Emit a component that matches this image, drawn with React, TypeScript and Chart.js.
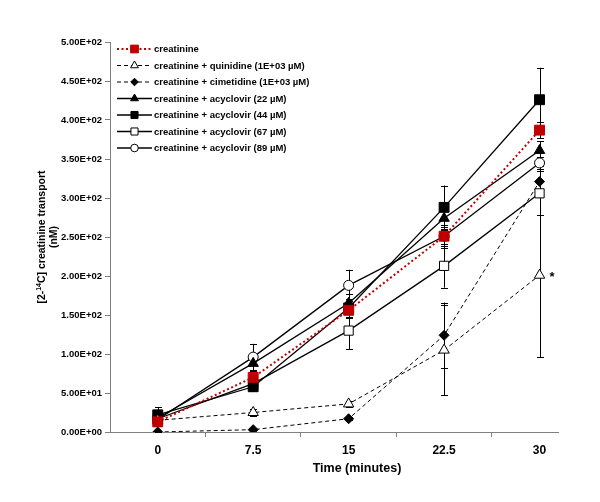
import React, { useEffect, useRef } from 'react';
import { Chart, registerables } from 'chart.js';

Chart.register(...registerables);

const TIMES = [0, 7.5, 15, 22.5, 30];
const X_TICKS = [0, 3.75, 7.5, 11.25, 15, 18.75, 22.5, 26.25, 30];
const LABELS = [
  'creatinine',
  'creatinine + quinidine (1E+03 µM)',
  'creatinine + cimetidine (1E+03 µM)',
  'creatinine + acyclovir (22 µM)',
  'creatinine + acyclovir (44 µM)',
  'creatinine + acyclovir (67 µM)',
  'creatinine + acyclovir (89 µM)',
];
const CREATININE = [13, 70, 156, 251, 387];
const CREATININE_ERR = [5, 8, 10, 12, 10];
const QUINIDINE = [15, 25, 36, 105, 201];
const QUINIDINE_ERR = [3, 4, 4, 58, 105];
const CIMETIDINE = [0, 3, 17, 124, 321];
const CIMETIDINE_ERR = [1, 1, 2, 42, 20];
const ACY22 = [18, 88, 165, 274, 361];
const ACY22_ERR = [8, 10, 12, 15, 12];
const ACY44 = [22, 58, 159, 288, 426];
const ACY44_ERR = [10, 6, 12, 28, 41];
const ACY67 = [17, 62, 130, 213, 306];
const ACY67_ERR = [6, 6, 24, 28, 28];
const ACY89 = [16, 96, 188, 251, 345];
const ACY89_ERR = [6, 17, 20, 15, 8];
const SIGNIFICANT = { series: 1, index: 4, mark: '*' };

const FONT = "'Liberation Sans', Arial, sans-serif";
const RED = '#C00000';

function fmtExp(v: number) {
  if (v === 0) return '0.00E+00';
  const e = Math.floor(Math.log10(Math.abs(v)));
  const m = v / Math.pow(10, e);
  const es = (e < 0 ? '-' : '+') + String(Math.abs(e)).padStart(2, '0');
  return m.toFixed(2) + 'E' + es;
}

function drawMarker(ctx: CanvasRenderingContext2D, style: string, x: number, y: number, r: number, fill: string, stroke: string, bw: number) {
  ctx.save();
  ctx.beginPath();
  if (style === 'rect') {
    const s = r * Math.SQRT1_2;
    ctx.rect(x - s, y - s, 2 * s, 2 * s);
  } else if (style === 'triangle') {
    let a = 0;
    ctx.moveTo(x + Math.sin(a) * r, y - Math.cos(a) * r);
    a += (2 * Math.PI) / 3;
    ctx.lineTo(x + Math.sin(a) * r, y - Math.cos(a) * r);
    a += (2 * Math.PI) / 3;
    ctx.lineTo(x + Math.sin(a) * r, y - Math.cos(a) * r);
    ctx.closePath();
  } else if (style === 'rectRot') {
    ctx.moveTo(x, y - r);
    ctx.lineTo(x + r, y);
    ctx.lineTo(x, y + r);
    ctx.lineTo(x - r, y);
    ctx.closePath();
  } else {
    ctx.arc(x, y, r, 0, Math.PI * 2);
  }
  ctx.fillStyle = fill;
  ctx.fill();
  ctx.lineWidth = bw;
  ctx.strokeStyle = stroke;
  ctx.stroke();
  ctx.restore();
}

export default function App() {
  const ref = useRef<HTMLCanvasElement | null>(null);

  useEffect(() => {
    document.body.style.margin = '0';
    const canvas = ref.current;
    if (!canvas) return;

    const series = [
      { label: LABELS[0], vals: CREATININE, err: CREATININE_ERR, color: RED, dash: [2, 2.5], width: 2, style: 'rect', r: 7, fill: RED, lr: 5.5 },
      { label: LABELS[1], vals: QUINIDINE, err: QUINIDINE_ERR, color: '#000', dash: [4, 3], width: 1, style: 'triangle', r: 6, fill: '#fff', lr: 4.5 },
      { label: LABELS[2], vals: CIMETIDINE, err: CIMETIDINE_ERR, color: '#000', dash: [4, 3], width: 1, style: 'rectRot', r: 5, fill: '#000', lr: 3.8 },
      { label: LABELS[3], vals: ACY22, err: ACY22_ERR, color: '#000', dash: [], width: 1.3, style: 'triangle', r: 6, fill: '#000', lr: 4.5 },
      { label: LABELS[4], vals: ACY44, err: ACY44_ERR, color: '#000', dash: [], width: 1.3, style: 'rect', r: 7, fill: '#000', lr: 5 },
      { label: LABELS[5], vals: ACY67, err: ACY67_ERR, color: '#000', dash: [], width: 1.3, style: 'rect', r: 6.5, fill: '#fff', lr: 5 },
      { label: LABELS[6], vals: ACY89, err: ACY89_ERR, color: '#000', dash: [], width: 1.3, style: 'circle', r: 5, fill: '#fff', lr: 3.8 },
    ];

    const datasets = series.map((s) => ({
      label: s.label,
      data: TIMES.map((t, i) => ({ x: t, y: s.vals[i] })),
      borderColor: s.color,
      borderDash: s.dash,
      borderWidth: s.width,
      pointStyle: s.style,
      pointRadius: s.r,
      pointBackgroundColor: s.fill,
      pointBorderColor: s.color === RED ? RED : '#000',
      pointBorderWidth: 1,
      fill: false,
      tension: 0,
    }));

    const errorBars = {
      id: 'errorBars',
      beforeDatasetsDraw(chart: any) {
        const ctx = chart.ctx;
        const xs = chart.scales.x;
        const ys = chart.scales.y;
        ctx.save();
        ctx.strokeStyle = '#000';
        ctx.lineWidth = 1;
        series.forEach((s) => {
          TIMES.forEach((t, i) => {
            const x = Math.round(xs.getPixelForValue(t)) + 0.5;
            const y1 = ys.getPixelForValue(s.vals[i] + s.err[i]);
            const y2 = ys.getPixelForValue(Math.max(0, s.vals[i] - s.err[i]));
            ctx.beginPath();
            ctx.moveTo(x, y1);
            ctx.lineTo(x, y2);
            ctx.moveTo(x - 3.5, Math.round(y1) + 0.5);
            ctx.lineTo(x + 3.5, Math.round(y1) + 0.5);
            ctx.moveTo(x - 3.5, Math.round(y2) + 0.5);
            ctx.lineTo(x + 3.5, Math.round(y2) + 0.5);
            ctx.stroke();
          });
        });
        ctx.restore();
      },
    };

    const decorations = {
      id: 'decorations',
      afterDraw(chart: any) {
        const ctx = chart.ctx;
        const area = chart.chartArea;
        const xs = chart.scales.x;
        const ys = chart.scales.y;
        ctx.save();
        // legend
        series.forEach((s, i) => {
          const y = 49 + 16.5 * i;
          ctx.save();
          ctx.strokeStyle = s.color;
          ctx.lineWidth = s.width;
          ctx.setLineDash(s.dash);
          ctx.beginPath();
          ctx.moveTo(117, y);
          ctx.lineTo(152, y);
          ctx.stroke();
          ctx.restore();
          drawMarker(ctx, s.style, 134.5, y, s.lr, s.fill, s.color === RED ? RED : '#000', 1);
          ctx.fillStyle = '#000';
          ctx.font = `bold 9.5px ${FONT}`;
          ctx.textAlign = 'left';
          ctx.textBaseline = 'middle';
          ctx.fillText(s.label, 154, y + 0.5);
        });
        // significance mark
        const sp = series[SIGNIFICANT.series];
        ctx.font = `bold 13px ${FONT}`;
        ctx.textAlign = 'left';
        ctx.textBaseline = 'middle';
        ctx.fillStyle = '#000';
        ctx.fillText(
          SIGNIFICANT.mark,
          xs.getPixelForValue(TIMES[SIGNIFICANT.index]) + 10,
          ys.getPixelForValue(sp.vals[SIGNIFICANT.index]) + 2
        );
        // x title
        ctx.font = `bold 12.5px ${FONT}`;
        ctx.textAlign = 'center';
        ctx.fillText('Time (minutes)', 357, area.bottom + 37);
        // y title
        ctx.save();
        ctx.translate(0, (area.top + area.bottom) / 2);
        ctx.rotate(-Math.PI / 2);
        ctx.textBaseline = 'middle';
        const p1 = '[2-';
        const sup = '14';
        const p2 = 'C] creatinine transport';
        ctx.font = `bold 10.5px ${FONT}`;
        const w1 = ctx.measureText(p1).width;
        const w2 = ctx.measureText(p2).width;
        ctx.font = `bold 7px ${FONT}`;
        const ws = ctx.measureText(sup).width;
        const total = w1 + ws + w2;
        let xx = -total / 2;
        const yy = 42;
        ctx.textAlign = 'left';
        ctx.font = `bold 10.5px ${FONT}`;
        ctx.fillText(p1, xx, yy);
        xx += w1;
        ctx.font = `bold 7px ${FONT}`;
        ctx.fillText(sup, xx, yy - 3);
        xx += ws;
        ctx.font = `bold 10.5px ${FONT}`;
        ctx.fillText(p2, xx, yy);
        ctx.textAlign = 'center';
        ctx.fillText('(nM)', 0, yy + 12.5);
        ctx.restore();
        ctx.restore();
      },
    };

    const chart = new Chart(canvas, {
      type: 'line',
      data: { datasets: datasets as any },
      options: {
        animation: false,
        responsive: false,
        devicePixelRatio: 1,
        layout: { padding: { top: 42, right: 42, left: 0, bottom: 0 } },
        plugins: { legend: { display: false }, tooltip: { enabled: false } },
        scales: {
          x: {
            type: 'linear',
            min: -3.75,
            max: 31.45,
            afterBuildTicks: (s: any) => {
              s.ticks = X_TICKS.map((v) => ({ value: v }));
            },
            afterFit: (s: any) => {
              s.height = 70;
            },
            grid: {
              drawOnChartArea: false,
              drawTicks: true,
              tickLength: 5,
              tickColor: (c: any) => (c.tick && TIMES.includes(c.tick.value) ? 'rgba(0,0,0,0)' : '#808080'),
            },
            border: { color: '#808080', width: 1 },
            ticks: {
              autoSkip: false,
              maxRotation: 0,
              padding: 6,
              color: '#000',
              font: { family: FONT, size: 12, weight: 'bold' },
              callback: (v: any) => (TIMES.includes(Number(v)) ? String(v) : ''),
            },
          },
          y: {
            min: 0,
            max: 500,
            afterFit: (s: any) => {
              s.width = 110;
            },
            grid: { drawOnChartArea: false, drawTicks: true, tickLength: 5, tickColor: '#808080' },
            border: { color: '#808080', width: 1 },
            ticks: {
              stepSize: 50,
              padding: 3,
              color: '#000',
              font: { family: FONT, size: 9.5, weight: 'bold' },
              callback: (v: any) => fmtExp(Number(v)),
            },
          },
        },
      },
      plugins: [errorBars, decorations],
    });
    return () => chart.destroy();
  }, []);

  return (
    <div style={{ width: 600, height: 502, background: '#fff' }}>
      <canvas ref={ref} width={600} height={502} style={{ display: 'block' }} />
    </div>
  );
}
